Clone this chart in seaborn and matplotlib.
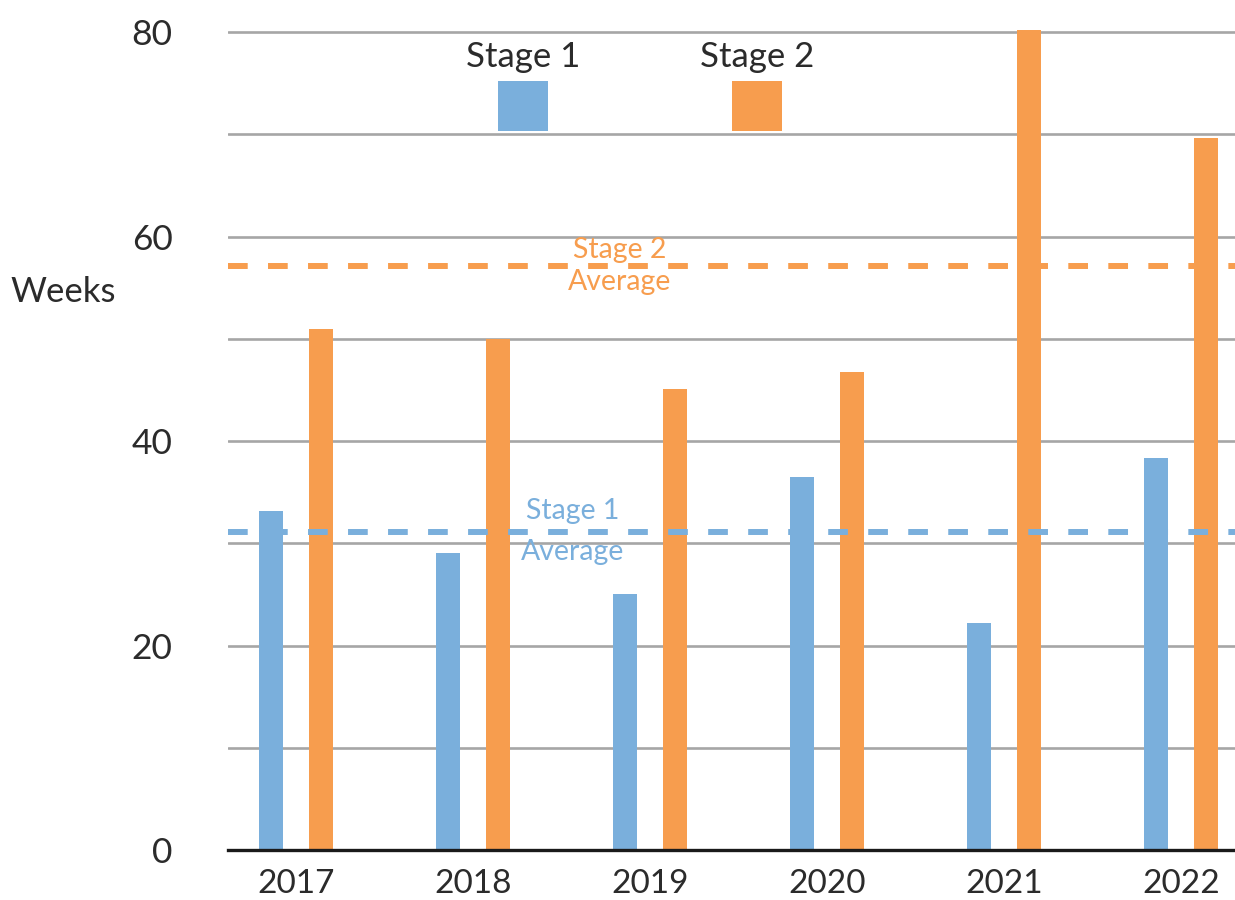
import matplotlib
matplotlib.use("Agg")
import matplotlib.pyplot as plt
from matplotlib.patches import Rectangle
import seaborn as sns
import pandas as pd

# Weeks spent in each stage, by year
years = ["2017", "2018", "2019", "2020", "2021", "2022"]
stage1 = [33.2, 29.0, 25.0, 36.5, 22.2, 38.3]
stage2 = [51.0, 50.0, 45.1, 46.8, 80.2, 69.6]
stage1_avg = 31.1
stage2_avg = 57.1
y_ticks = [0, 10, 20, 30, 40, 50, 60, 70, 80]
y_labels = ["0", "", "20", "", "40", "", "60", "", "80"]

BLUE = "#7AAFDC"
ORANGE = "#F79D4E"
TEXT = "#2B2B2B"
GRID = "#A6A6A6"

sns.set_theme(style="white")
plt.rcParams["font.family"] = ["Lato", "DejaVu Sans"]

df = pd.DataFrame({
    "Year": years * 2,
    "Weeks": stage1 + stage2,
    "Stage": ["Stage 1"] * len(years) + ["Stage 2"] * len(years),
})

fig = plt.figure(figsize=(12.35, 9), dpi=100)
ax = fig.add_axes([228 / 1235, 50 / 900, 1 - 228 / 1235, (850 - 29.5) / 900])

sns.barplot(data=df, x="Year", y="Weeks", hue="Stage",
            palette=[BLUE, ORANGE], width=0.565, gap=0.52,
            linewidth=0, saturation=1, legend=False, ax=ax, zorder=3)

ax.set_xlim(-0.384, 5.305)
ax.set_ylim(0, 80.25)

# grid and axes
ax.set_yticks(y_ticks)
ax.set_yticklabels(y_labels)
for v in y_ticks[1:]:
    ax.axhline(v, color=GRID, lw=1.9, zorder=1)
for s in ["top", "right", "left"]:
    ax.spines[s].set_visible(False)
ax.spines["bottom"].set_color("#1A1A1A")
ax.spines["bottom"].set_linewidth(2.4)
ax.spines["bottom"].set_zorder(5)
ax.tick_params(axis="y", length=0, pad=40, labelsize=25.5, labelcolor=TEXT)
ax.tick_params(axis="x", length=0, pad=14, labelsize=24, labelcolor=TEXT)
ax.set_xlabel("")
ax.set_ylabel("")
fig.text(10 / 1235, 1 - 292 / 900, "Weeks", ha="left", va="center",
         fontsize=25, color=TEXT)

# average lines
ax.axhline(stage1_avg, color=BLUE, lw=4.3, dashes=(3.3, 3.4), zorder=4,
           solid_capstyle="butt", dash_capstyle="butt")
ax.axhline(stage2_avg, color=ORANGE, lw=4.3, dashes=(3.3, 3.4), zorder=4,
           solid_capstyle="butt", dash_capstyle="butt")
ax.annotate("Stage 1", (1.565, stage1_avg), xytext=(0, 6), textcoords="offset points",
            ha="center", va="bottom", fontsize=20.5, color=BLUE, zorder=6)
ax.annotate("Average", (1.565, stage1_avg), xytext=(0, -5), textcoords="offset points",
            ha="center", va="top", fontsize=20.5, color=BLUE, zorder=6)
ax.annotate("Stage 2", (1.83, stage2_avg), xytext=(0, 2), textcoords="offset points",
            ha="center", va="bottom", fontsize=20.5, color=ORANGE, zorder=6)
ax.annotate("Average", (1.83, stage2_avg), xytext=(0, -2), textcoords="offset points",
            ha="center", va="top", fontsize=20.5, color=ORANGE, zorder=6)

# legend: label above a colour square
for label, color, cx in [("Stage 1", BLUE, 523), ("Stage 2", ORANGE, 757)]:
    fig.text(cx / 1235, 1 - 57 / 900, label, ha="center", va="center",
             fontsize=25, color=TEXT)
    fig.patches.append(Rectangle(((cx - 25) / 1235, 1 - 131 / 900), 50 / 1235, 50 / 900,
                                 transform=fig.transFigure, facecolor=color,
                                 edgecolor="none", zorder=6))

fig.savefig("out.png", dpi=100, facecolor="white")
